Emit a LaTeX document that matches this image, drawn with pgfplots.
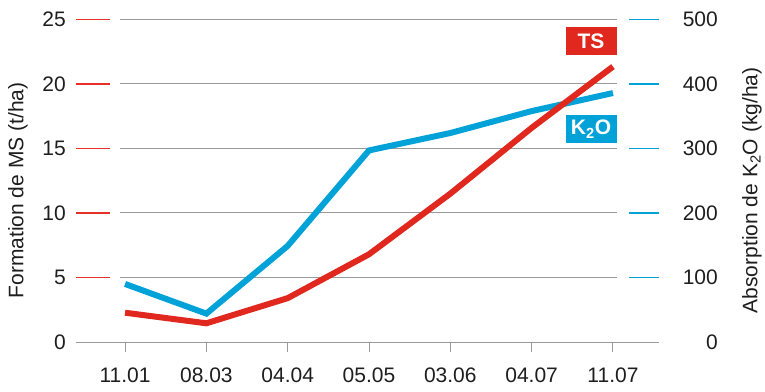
\documentclass[border=0pt]{standalone}
\usepackage{fontspec}
\setmainfont{Liberation Sans}
\usepackage{pgfplots}
\pgfplotsset{compat=1.18}
\definecolor{tsred}{HTML}{E0281E}
\definecolor{tickred}{HTML}{E8302A}
\definecolor{kblue}{HTML}{00A2D8}
\definecolor{gridgray}{HTML}{9A9A9A}
\definecolor{txt}{HTML}{1E1E1E}
\begin{document}
\begin{tikzpicture}
\pgfplotsset{
 common/.style={
  scale only axis, width=583bp, height=322.5bp,
  xmin=-0.603, xmax=6.566, ymin=0,
  /pgf/number format/assume math mode=true,
  tick label style={font=\fontsize{21bp}{24bp}\selectfont, text=txt},
  clip=false,
 }
}
\begin{axis}[common, ymax=500,
  axis x line=bottom, axis y line*=right,
  x axis line style={gridgray, line width=1bp, -},
  y axis line style={draw=none},
  xtick={0,...,6}, xticklabels={11.01,08.03,04.04,05.05,03.06,04.07,11.07},
  xticklabel style={yshift=-12bp},
  tick align=outside, major tick length=10bp,
  xtick style={gridgray, line width=1bp},
  ytick={0,100,...,500}, ytick style={draw=none},
  yticklabel style={anchor=east, inner sep=0pt, xshift=49bp},
  ylabel={Absorption de K\textsubscript{2}O (kg/ha)},
  every axis y label/.style={at={(axis description cs:1.1595,0.47)}, rotate=90, anchor=center, font=\fontsize{21bp}{24bp}\selectfont, text=txt},
]
\draw[gridgray, line width=1bp] (axis cs:-0.061,100) -- (axis cs:6.05,100);
\draw[gridgray, line width=1bp] (axis cs:-0.061,200) -- (axis cs:6.05,200);
\draw[gridgray, line width=1bp] (axis cs:-0.061,300) -- (axis cs:6.05,300);
\draw[gridgray, line width=1bp] (axis cs:-0.061,400) -- (axis cs:6.05,400);
\draw[gridgray, line width=1bp] (axis cs:-0.061,500) -- (axis cs:6.05,500);
\draw[tickred, line width=1.5bp] (axis cs:-0.603,100) -- (axis cs:-0.184,100);
\draw[tickred, line width=1.5bp] (axis cs:-0.603,200) -- (axis cs:-0.184,200);
\draw[tickred, line width=1.5bp] (axis cs:-0.603,300) -- (axis cs:-0.184,300);
\draw[tickred, line width=1.5bp] (axis cs:-0.603,400) -- (axis cs:-0.184,400);
\draw[tickred, line width=1.5bp] (axis cs:-0.603,500) -- (axis cs:-0.184,500);
\draw[kblue, line width=1.5bp] (axis cs:6.197,100) -- (axis cs:6.566,100);
\draw[kblue, line width=1.5bp] (axis cs:6.197,200) -- (axis cs:6.566,200);
\draw[kblue, line width=1.5bp] (axis cs:6.197,300) -- (axis cs:6.566,300);
\draw[kblue, line width=1.5bp] (axis cs:6.197,400) -- (axis cs:6.566,400);
\draw[kblue, line width=1.5bp] (axis cs:6.197,500) -- (axis cs:6.566,500);
\addplot[kblue, line width=6bp, line join=miter] coordinates {
 (0,90) (1,44) (2,149) (3,297) (4,324) (5,358) (6,386)};
\end{axis}
\begin{axis}[common, ymax=25,
  axis x line=none, axis y line*=left,
  y axis line style={draw=none},
  ytick={0,5,...,25}, ytick style={draw=none},
  yticklabel style={anchor=east, inner sep=0pt, xshift=-10bp},
  ylabel={Formation de MS (t/ha)},
  every axis y label/.style={at={(axis description cs:-0.0995,0.47)}, rotate=90, anchor=center, font=\fontsize{21bp}{24bp}\selectfont, text=txt},
]
\addplot[tsred, line width=6bp, line join=miter] coordinates {
 (0,2.27) (1,1.45) (2,3.4) (3,6.8) (4,11.5) (5,16.6) (6,21.35)};
\node[fill=tsred, text=white, font=\fontsize{21bp}{24bp}\selectfont\bfseries, minimum width=51bp, minimum height=28bp, inner sep=0pt] at (axis cs:5.73,23.3) {TS};
\node[fill=kblue, text=white, font=\fontsize{21bp}{24bp}\selectfont\bfseries, minimum width=51bp, minimum height=28bp, inner sep=0pt] at (axis cs:5.73,16.5) {K\textsubscript{2}O};
\end{axis}
\pgfresetboundingbox
\path[use as bounding box] (-76bp,-50bp) rectangle (689bp,342bp);
\end{tikzpicture}
\end{document}
